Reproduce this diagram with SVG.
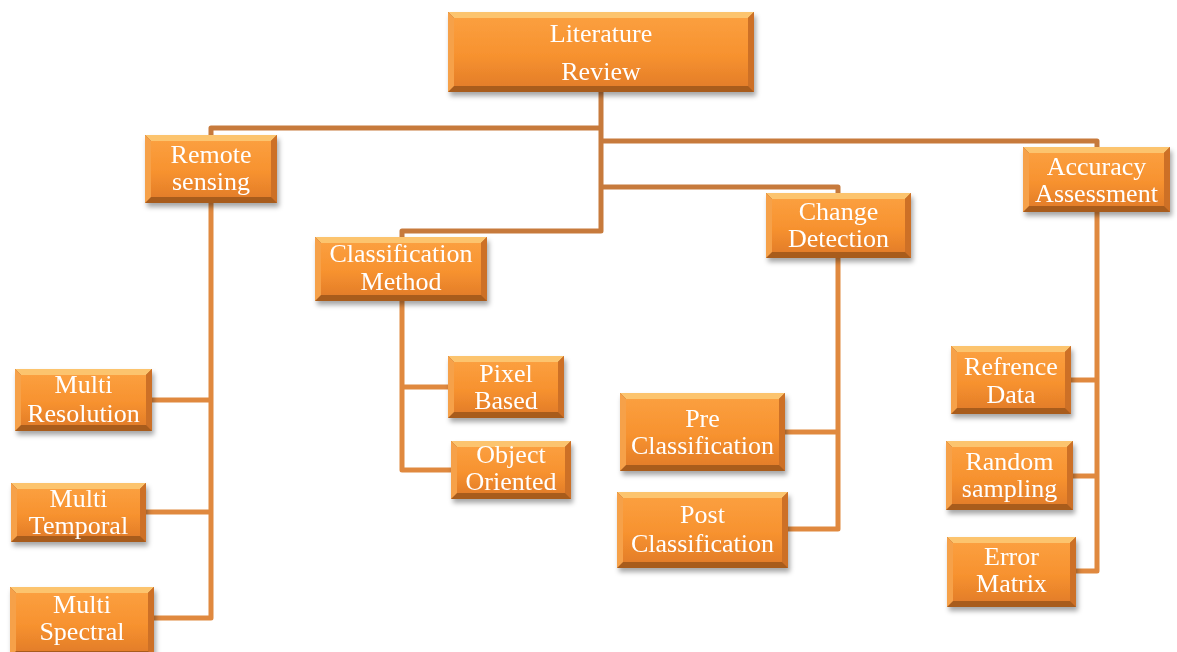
<svg xmlns="http://www.w3.org/2000/svg" width="1177" height="652" viewBox="0 0 1177 652">
  <defs>
    <linearGradient id="face" x1="0" y1="0" x2="0" y2="1">
      <stop offset="0" stop-color="#FB9F3F"/>
      <stop offset="0.55" stop-color="#F7922F"/>
      <stop offset="1" stop-color="#E47E2A"/>
    </linearGradient>
    <filter id="shadow" x="-10%" y="-10%" width="125%" height="140%">
      <feDropShadow dx="2" dy="4" stdDeviation="2.5" flood-color="#000" flood-opacity="0.35"/>
    </filter>
  </defs>
  <style>
    .link { fill: none; stroke-width: 5; stroke-linejoin: round; }
    .upper { stroke: #C77A3C; }
    .lower { stroke: #E0893F; }
    .box { filter: url(#shadow); }
    .base { fill: #A85B1E; }
    .top { fill: #FCC46E; }
    .left { fill: #F6A14A; }
    .right { fill: #CD7027; }
    .face { fill: url(#face); }
    .label { fill: #FFFFFF; font-family: "Liberation Serif", "Times New Roman", serif; font-size: 26px; text-anchor: middle; }
  </style>

  <rect width="1177" height="652" fill="#FFFFFF"/>

  <!-- connectors -->
  <g id="connectors">
    <path class="link upper" d="M601 92V231H402V237"/>
    <path class="link upper" d="M211 135V128H601"/>
    <path class="link upper" d="M601 141H1097V147"/>
    <path class="link upper" d="M601 187H838V193"/>

    <path class="link lower" d="M211 203V618H154"/>
    <path class="link lower" d="M152 400H211"/>
    <path class="link lower" d="M146 512H211"/>

    <path class="link lower" d="M402 301V470H451"/>
    <path class="link lower" d="M402 387H448"/>

    <path class="link lower" d="M838 258V529H788"/>
    <path class="link lower" d="M785 432H838"/>

    <path class="link lower" d="M1097 212V571H1076"/>
    <path class="link lower" d="M1071 380H1097"/>
    <path class="link lower" d="M1073 476H1097"/>
  </g>

  <!-- Literature Review -->
  <g id="literature-review" class="box" transform="translate(448 12)">
    <rect class="base" width="306" height="80"/>
    <path class="top" d="M0 0H306l-6 6H6z"/>
    <path class="left" d="M0 0l6 6V74L0 80z"/>
    <path class="right" d="M306 0V80l-6-6V6z"/>
    <rect class="face" x="6" y="6" width="294" height="68"/>
    <text class="label" x="153" y="30">Literature</text>
    <text class="label" x="153" y="68">Review</text>
  </g>

  <!-- Remote sensing -->
  <g id="remote-sensing" class="box" transform="translate(145 135)">
    <rect class="base" width="132" height="68"/>
    <path class="top" d="M0 0H132l-6 6H6z"/>
    <path class="left" d="M0 0l6 6V62L0 68z"/>
    <path class="right" d="M132 0V68l-6-6V6z"/>
    <rect class="face" x="6" y="6" width="120" height="56"/>
    <text class="label" x="66" y="28">Remote</text>
    <text class="label" x="66" y="55">sensing</text>
  </g>

  <!-- Classification Method -->
  <g id="classification-method" class="box" transform="translate(315 237)">
    <rect class="base" width="172" height="64"/>
    <path class="top" d="M0 0H172l-6 6H6z"/>
    <path class="left" d="M0 0l6 6V58L0 64z"/>
    <path class="right" d="M172 0V64l-6-6V6z"/>
    <rect class="face" x="6" y="6" width="160" height="52"/>
    <text class="label" x="86" y="25">Classification</text>
    <text class="label" x="86" y="53">Method</text>
  </g>

  <!-- Change Detection -->
  <g id="change-detection" class="box" transform="translate(766 193)">
    <rect class="base" width="145" height="65"/>
    <path class="top" d="M0 0H145l-6 6H6z"/>
    <path class="left" d="M0 0l6 6V59L0 65z"/>
    <path class="right" d="M145 0V65l-6-6V6z"/>
    <rect class="face" x="6" y="6" width="133" height="53"/>
    <text class="label" x="72.5" y="27">Change</text>
    <text class="label" x="72.5" y="54">Detection</text>
  </g>

  <!-- Accuracy Assessment -->
  <g id="accuracy-assessment" class="box" transform="translate(1023 147)">
    <rect class="base" width="147" height="65"/>
    <path class="top" d="M0 0H147l-6 6H6z"/>
    <path class="left" d="M0 0l6 6V59L0 65z"/>
    <path class="right" d="M147 0V65l-6-6V6z"/>
    <rect class="face" x="6" y="6" width="135" height="53"/>
    <text class="label" x="73.5" y="28">Accuracy</text>
    <text class="label" x="73.5" y="55">Assessment</text>
  </g>

  <!-- Multi Resolution -->
  <g id="multi-resolution" class="box" transform="translate(15 369)">
    <rect class="base" width="137" height="62"/>
    <path class="top" d="M0 0H137l-6 6H6z"/>
    <path class="left" d="M0 0l6 6V56L0 62z"/>
    <path class="right" d="M137 0V62l-6-6V6z"/>
    <rect class="face" x="6" y="6" width="125" height="50"/>
    <text class="label" x="68.5" y="24">Multi</text>
    <text class="label" x="68.5" y="53">Resolution</text>
  </g>

  <!-- Multi Temporal -->
  <g id="multi-temporal" class="box" transform="translate(11 483)">
    <rect class="base" width="135" height="59"/>
    <path class="top" d="M0 0H135l-6 6H6z"/>
    <path class="left" d="M0 0l6 6V53L0 59z"/>
    <path class="right" d="M135 0V59l-6-6V6z"/>
    <rect class="face" x="6" y="6" width="123" height="47"/>
    <text class="label" x="67.5" y="24">Multi</text>
    <text class="label" x="67.5" y="51">Temporal</text>
  </g>

  <!-- Multi Spectral -->
  <g id="multi-spectral" class="box" transform="translate(10 587)">
    <rect class="base" width="144" height="70"/>
    <path class="top" d="M0 0H144l-6 6H6z"/>
    <path class="left" d="M0 0l6 6V64L0 70z"/>
    <path class="right" d="M144 0V70l-6-6V6z"/>
    <rect class="face" x="6" y="6" width="132" height="58"/>
    <text class="label" x="72" y="26">Multi</text>
    <text class="label" x="72" y="53">Spectral</text>
  </g>

  <!-- Pixel Based -->
  <g id="pixel-based" class="box" transform="translate(448 356)">
    <rect class="base" width="116" height="62"/>
    <path class="top" d="M0 0H116l-6 6H6z"/>
    <path class="left" d="M0 0l6 6V56L0 62z"/>
    <path class="right" d="M116 0V62l-6-6V6z"/>
    <rect class="face" x="6" y="6" width="104" height="50"/>
    <text class="label" x="58" y="26">Pixel</text>
    <text class="label" x="58" y="53">Based</text>
  </g>

  <!-- Object Oriented -->
  <g id="object-oriented" class="box" transform="translate(451 441)">
    <rect class="base" width="120" height="58"/>
    <path class="top" d="M0 0H120l-6 6H6z"/>
    <path class="left" d="M0 0l6 6V52L0 58z"/>
    <path class="right" d="M120 0V58l-6-6V6z"/>
    <rect class="face" x="6" y="6" width="108" height="46"/>
    <text class="label" x="60" y="22">Object</text>
    <text class="label" x="60" y="49">Oriented</text>
  </g>

  <!-- Pre Classification -->
  <g id="pre-classification" class="box" transform="translate(620 393)">
    <rect class="base" width="165" height="78"/>
    <path class="top" d="M0 0H165l-6 6H6z"/>
    <path class="left" d="M0 0l6 6V72L0 78z"/>
    <path class="right" d="M165 0V78l-6-6V6z"/>
    <rect class="face" x="6" y="6" width="153" height="66"/>
    <text class="label" x="82.5" y="34">Pre</text>
    <text class="label" x="82.5" y="61">Classification</text>
  </g>

  <!-- Post Classification -->
  <g id="post-classification" class="box" transform="translate(617 492)">
    <rect class="base" width="171" height="76"/>
    <path class="top" d="M0 0H171l-6 6H6z"/>
    <path class="left" d="M0 0l6 6V70L0 76z"/>
    <path class="right" d="M171 0V76l-6-6V6z"/>
    <rect class="face" x="6" y="6" width="159" height="64"/>
    <text class="label" x="85.5" y="31">Post</text>
    <text class="label" x="85.5" y="60">Classification</text>
  </g>

  <!-- Refrence Data -->
  <g id="refrence-data" class="box" transform="translate(951 346)">
    <rect class="base" width="120" height="68"/>
    <path class="top" d="M0 0H120l-6 6H6z"/>
    <path class="left" d="M0 0l6 6V62L0 68z"/>
    <path class="right" d="M120 0V68l-6-6V6z"/>
    <rect class="face" x="6" y="6" width="108" height="56"/>
    <text class="label" x="60" y="29">Refrence</text>
    <text class="label" x="60" y="57">Data</text>
  </g>

  <!-- Random sampling -->
  <g id="random-sampling" class="box" transform="translate(946 441)">
    <rect class="base" width="127" height="69"/>
    <path class="top" d="M0 0H127l-6 6H6z"/>
    <path class="left" d="M0 0l6 6V63L0 69z"/>
    <path class="right" d="M127 0V69l-6-6V6z"/>
    <rect class="face" x="6" y="6" width="115" height="57"/>
    <text class="label" x="63.5" y="29">Random</text>
    <text class="label" x="63.5" y="56">sampling</text>
  </g>

  <!-- Error Matrix -->
  <g id="error-matrix" class="box" transform="translate(947 537)">
    <rect class="base" width="129" height="70"/>
    <path class="top" d="M0 0H129l-6 6H6z"/>
    <path class="left" d="M0 0l6 6V64L0 70z"/>
    <path class="right" d="M129 0V70l-6-6V6z"/>
    <rect class="face" x="6" y="6" width="117" height="58"/>
    <text class="label" x="64.5" y="28">Error</text>
    <text class="label" x="64.5" y="55">Matrix</text>
  </g>
</svg>
